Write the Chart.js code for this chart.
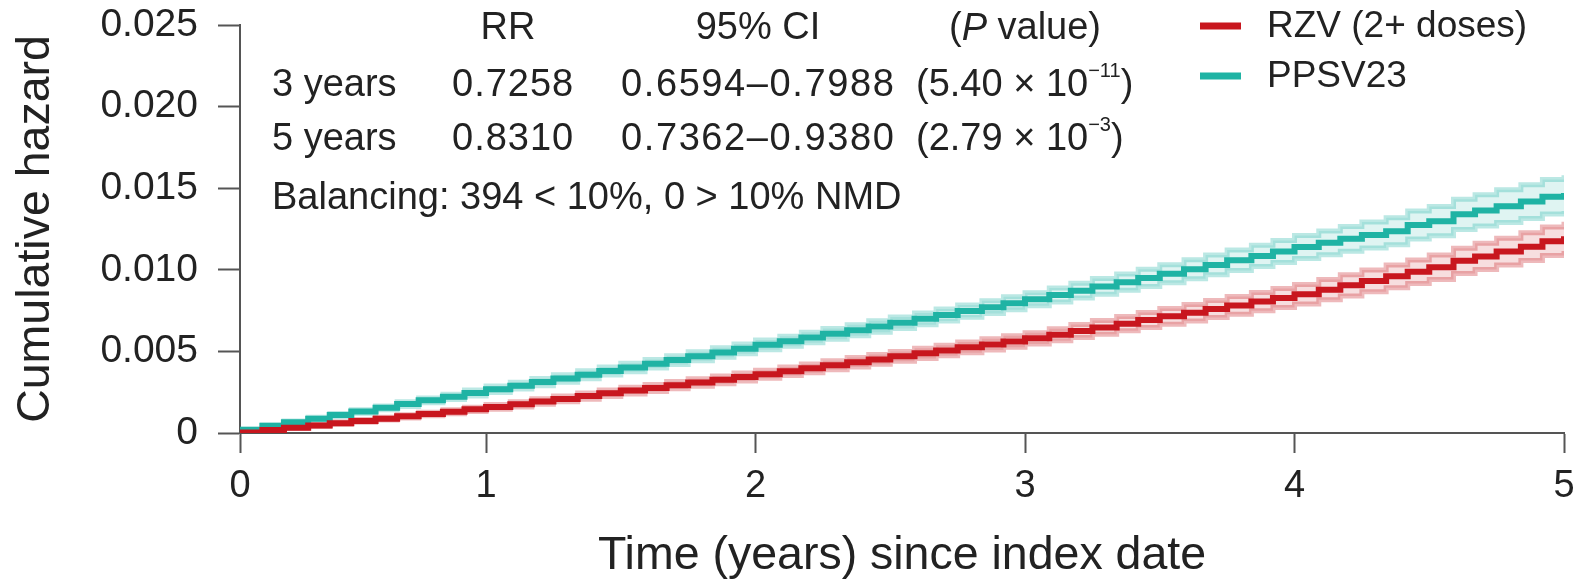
<!DOCTYPE html>
<html>
<head>
<meta charset="utf-8">
<script src="https://cdn.jsdelivr.net/npm/chart.js@4.4.1/dist/chart.umd.min.js"></script>
<style>
  html, body { margin: 0; padding: 0; background: #fff; }
  #wrap { width: 1578px; height: 581px; position: relative; }
</style>
</head>
<body>
<div id="wrap"><canvas id="hazardChart"></canvas></div>
<script>
// follow-up time (years); curves start a month after the index date
const years = [0.087, 0.17, 0.25, 0.34, 0.42, 0.50, 0.59, 0.67, 0.75, 0.84, 0.92, 1.00,
  1.09, 1.17, 1.25, 1.34, 1.42, 1.50, 1.59, 1.67, 1.75, 1.84, 1.92, 2.00,
  2.09, 2.17, 2.25, 2.34, 2.42, 2.50, 2.59, 2.67, 2.75, 2.84, 2.92, 3.00,
  3.09, 3.17, 3.25, 3.34, 3.42, 3.50, 3.59, 3.67, 3.75, 3.84, 3.92, 4.00,
  4.09, 4.17, 4.25, 4.34, 4.42, 4.50, 4.59, 4.67, 4.75, 4.84, 4.92, 5.00];

// PPSV23 cumulative hazard + 95% CI
const ppsv = [0.00020, 0.00044, 0.00066, 0.00088, 0.00110, 0.00132, 0.00154, 0.00177, 0.00200, 0.00222, 0.00245, 0.00268,
  0.00290, 0.00312, 0.00334, 0.00357, 0.00380, 0.00402, 0.00425, 0.00447, 0.00470, 0.00493, 0.00516, 0.00540,
  0.00562, 0.00585, 0.00608, 0.00630, 0.00653, 0.00676, 0.00700, 0.00723, 0.00747, 0.00771, 0.00795, 0.00820,
  0.00846, 0.00872, 0.00898, 0.00924, 0.00950, 0.00976, 0.01003, 0.01030, 0.01058, 0.01085, 0.01112, 0.01140,
  0.01165, 0.01190, 0.01213, 0.01236, 0.01275, 0.01298, 0.01340, 0.01364, 0.01390, 0.01418, 0.01448, 0.01470];
const ppsvLo = [0.00017, 0.00039, 0.00059, 0.00080, 0.00100, 0.00121, 0.00142, 0.00163, 0.00185, 0.00206, 0.00227, 0.00248,
  0.00269, 0.00290, 0.00311, 0.00333, 0.00355, 0.00376, 0.00399, 0.00420, 0.00442, 0.00464, 0.00486, 0.00510,
  0.00531, 0.00553, 0.00575, 0.00596, 0.00618, 0.00641, 0.00664, 0.00686, 0.00709, 0.00732, 0.00755, 0.00780,
  0.00803, 0.00827, 0.00850, 0.00874, 0.00897, 0.00921, 0.00945, 0.00970, 0.00995, 0.01020, 0.01044, 0.01070,
  0.01092, 0.01114, 0.01133, 0.01153, 0.01189, 0.01208, 0.01247, 0.01268, 0.01290, 0.01315, 0.01342, 0.01360];
const ppsvHi = [0.00023, 0.00049, 0.00073, 0.00096, 0.00120, 0.00143, 0.00166, 0.00191, 0.00215, 0.00238, 0.00263, 0.00288,
  0.00311, 0.00334, 0.00357, 0.00381, 0.00405, 0.00428, 0.00451, 0.00474, 0.00498, 0.00522, 0.00546, 0.00570,
  0.00593, 0.00617, 0.00641, 0.00664, 0.00688, 0.00711, 0.00736, 0.00760, 0.00785, 0.00810, 0.00835, 0.00860,
  0.00889, 0.00917, 0.00946, 0.00974, 0.01003, 0.01031, 0.01061, 0.01090, 0.01121, 0.01150, 0.01180, 0.01210,
  0.01238, 0.01266, 0.01293, 0.01319, 0.01361, 0.01388, 0.01433, 0.01460, 0.01490, 0.01521, 0.01554, 0.01580];

// RZV (2+ doses) cumulative hazard + 95% CI
const rzv = [0.00003, 0.00018, 0.00032, 0.00046, 0.00060, 0.00074, 0.00088, 0.00102, 0.00116, 0.00130, 0.00145, 0.00160,
  0.00176, 0.00193, 0.00209, 0.00226, 0.00243, 0.00260, 0.00276, 0.00293, 0.00310, 0.00326, 0.00343, 0.00360,
  0.00378, 0.00396, 0.00415, 0.00433, 0.00451, 0.00470, 0.00488, 0.00506, 0.00525, 0.00543, 0.00561, 0.00580,
  0.00602, 0.00625, 0.00647, 0.00670, 0.00692, 0.00715, 0.00737, 0.00760, 0.00782, 0.00805, 0.00827, 0.00850,
  0.00878, 0.00905, 0.00932, 0.00960, 0.00988, 0.01015, 0.01055, 0.01082, 0.01112, 0.01142, 0.01175, 0.01205];
const rzvLo = [0.00001, 0.00014, 0.00027, 0.00040, 0.00053, 0.00066, 0.00079, 0.00092, 0.00105, 0.00118, 0.00132, 0.00145,
  0.00160, 0.00176, 0.00191, 0.00207, 0.00223, 0.00239, 0.00255, 0.00271, 0.00287, 0.00302, 0.00318, 0.00335,
  0.00352, 0.00369, 0.00387, 0.00404, 0.00421, 0.00440, 0.00457, 0.00474, 0.00492, 0.00509, 0.00526, 0.00545,
  0.00565, 0.00585, 0.00605, 0.00626, 0.00646, 0.00667, 0.00687, 0.00708, 0.00728, 0.00749, 0.00769, 0.00790,
  0.00816, 0.00840, 0.00865, 0.00890, 0.00916, 0.00940, 0.00978, 0.01002, 0.01030, 0.01057, 0.01088, 0.01115];
const rzvHi = [0.00005, 0.00022, 0.00037, 0.00052, 0.00067, 0.00082, 0.00097, 0.00112, 0.00127, 0.00142, 0.00158, 0.00175,
  0.00192, 0.00210, 0.00227, 0.00245, 0.00263, 0.00281, 0.00297, 0.00315, 0.00333, 0.00350, 0.00368, 0.00385,
  0.00404, 0.00423, 0.00443, 0.00462, 0.00481, 0.00500, 0.00519, 0.00538, 0.00558, 0.00577, 0.00596, 0.00615,
  0.00639, 0.00665, 0.00689, 0.00714, 0.00738, 0.00763, 0.00787, 0.00812, 0.00836, 0.00861, 0.00885, 0.00910,
  0.00940, 0.00970, 0.00999, 0.01030, 0.01060, 0.01090, 0.01132, 0.01162, 0.01194, 0.01227, 0.01262, 0.01295];

const xTicks = [0.087, 1, 2, 3, 4, 5];
const xTickLabels = ['0', '1', '2', '3', '4', '5'];
const yTicks = [0, 0.005, 0.010, 0.015, 0.020, 0.025];

const seriesNames = ['RZV (2+ doses)', 'PPSV23'];
const statHeader = ['RR', '95% CI', '(P value)'];
const statRows = [
  { label: '3 years', rr: '0.7258', ci: '0.6594\u20130.7988', p: '(5.40 \u00d7 10', exp: '\u221211' },
  { label: '5 years', rr: '0.8310', ci: '0.7362\u20130.9380', p: '(2.79 \u00d7 10', exp: '\u22123' }
];
const balanceNote = 'Balancing: 394 < 10%, 0 > 10% NMD';

const RED = '#c8161e';
const TEAL = '#1fb3a4';
const FONT = '"Liberation Sans", Arial, sans-serif';
const INK = '#222';

const pts = arr => arr.map((v, i) => ({ x: years[i], y: v }));

function band(data, color, fillTarget, order) {
  return {
    data: pts(data), stepped: true, borderColor: color, borderWidth: 5,
    pointRadius: 0, fill: fillTarget, backgroundColor: color.replace('0.3)', '0.14)'), order
  };
}

// legend + RR table drawn straight onto the canvas
const annotations = {
  id: 'annotations',
  afterDraw(chart) {
    const ctx = chart.ctx;
    const txt = (s, x, y, font, spacing) => {
      ctx.font = font;
      ctx.letterSpacing = spacing || '0px';
      ctx.fillText(s, x, y);
      const w = ctx.measureText(s).width;
      ctx.letterSpacing = '0px';
      return w;
    };
    const F = '38px ' + FONT;
    ctx.save();
    ctx.fillStyle = INK;
    ctx.textBaseline = 'middle';

    ctx.textAlign = 'center';
    txt(statHeader[0], 508, 29, F);
    txt(statHeader[1], 758, 29, F);
    // italic P in the header
    ctx.font = F;
    const pW = ctx.measureText(statHeader[2]).width;
    ctx.textAlign = 'left';
    let x = 1025 - pW / 2;
    x += txt('(', x, 29, F);
    x += txt('P', x, 29, 'italic ' + F);
    txt(' value)', x, 29, F);

    const rowY = [86, 140];
    statRows.forEach((r, i) => {
      const y = rowY[i];
      txt(r.label, 272, y, F);
      txt(r.rr, 452, y, F, '1px');
      txt(r.ci, 621, y, F, '1.6px');
      let px = 916 + txt(r.p, 916, y, F);
      px += txt(r.exp, px, y - 15, '20px ' + FONT);
      txt(')', px, y, F);
    });
    txt(balanceNote, 272, 199, F);

    // legend
    const legendY = [26, 76];
    [RED, TEAL].forEach((c, i) => {
      ctx.strokeStyle = c;
      ctx.lineWidth = 7;
      ctx.beginPath();
      ctx.moveTo(1200, legendY[i]);
      ctx.lineTo(1241, legendY[i]);
      ctx.stroke();
      txt(seriesNames[i], 1267, legendY[i] + 1, '37px ' + FONT);
    });
    ctx.restore();
  }
};

new Chart(document.getElementById('hazardChart'), {
  type: 'line',
  data: {
    datasets: [
      { label: seriesNames[0], data: pts(rzv), stepped: true, borderColor: RED, borderWidth: 6, pointRadius: 0, fill: false, order: 0 },
      { label: seriesNames[1], data: pts(ppsv), stepped: true, borderColor: TEAL, borderWidth: 6, pointRadius: 0, fill: false, order: 1 },
      band(rzvLo, 'rgba(200,22,30,0.3)', false, 2),
      band(rzvHi, 'rgba(200,22,30,0.3)', 2, 3),
      band(ppsvLo, 'rgba(31,179,164,0.3)', false, 4),
      band(ppsvHi, 'rgba(31,179,164,0.3)', 4, 5)
    ]
  },
  options: {
    responsive: true,
    maintainAspectRatio: false,
    animation: false,
    layout: { padding: { top: 25, right: 14, left: 0, bottom: 0 } },
    plugins: { legend: { display: false }, tooltip: { enabled: false } },
    scales: {
      x: {
        type: 'linear',
        min: xTicks[0],
        max: 5,
        afterBuildTicks: s => { s.ticks = xTicks.map(v => ({ value: v })); },
        afterFit: s => { s.height = 148; s.paddingLeft = 0; s.paddingRight = 0; },
        ticks: {
          callback: (v, i) => xTickLabels[i],
          font: { family: FONT, size: 38 }, color: INK, padding: 11,
          maxRotation: 0, autoSkip: false
        },
        grid: { drawOnChartArea: false, tickLength: 20, tickWidth: 2, tickColor: '#555' },
        border: { color: '#555', width: 2 },
        title: {
          display: true, text: 'Time (years) since index date',
          font: { family: FONT, size: 46.5, lineHeight: 1.08 }, color: INK, padding: { top: 10, bottom: 0 }
        }
      },
      y: {
        min: 0,
        max: 0.025,
        afterBuildTicks: s => { s.ticks = yTicks.map(v => ({ value: v })); },
        afterFit: s => { s.width = 240; s.paddingTop = 0; s.paddingBottom = 0; },
        ticks: {
          callback: v => v === 0 ? '0' : v.toFixed(3),
          font: { family: FONT, size: 39 }, color: INK, padding: 20
        },
        grid: { drawOnChartArea: false, tickLength: 22, tickWidth: 2, tickColor: '#555' },
        border: { color: '#555', width: 2 },
        title: {
          display: true, text: 'Cumulative hazard',
          font: { family: FONT, size: 46.5, lineHeight: 1.1 }, color: INK, padding: { top: 11, bottom: 0 }
        }
      }
    }
  },
  plugins: [annotations]
});
</script>
</body>
</html>
